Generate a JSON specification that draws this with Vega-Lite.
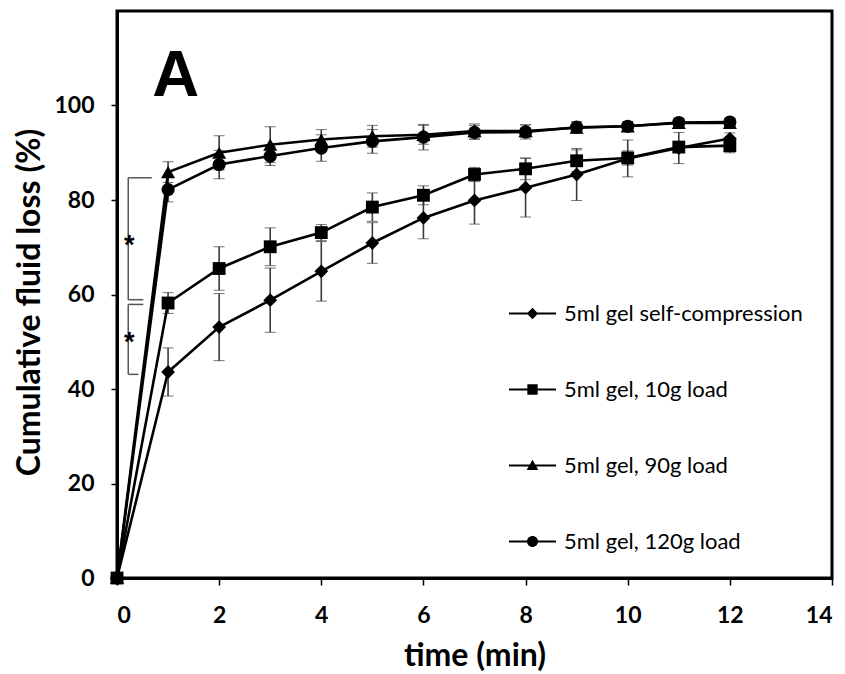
{
  "$schema": "https://vega.github.io/schema/vega-lite/v6.json",
  "width": 715,
  "height": 567,
  "autosize": "none",
  "padding": {"left": 117, "top": 11, "right": 13, "bottom": 96},
  "background": "white",
  "config": {
    "view": {"stroke": "black", "strokeWidth": 3},
    "font": "Lato",
    "axis": {
      "domainColor": "black", "domainWidth": 3,
      "tickColor": "black", "tickWidth": 1.5, "tickSize": 6,
      "labelFont": "Lato", "labelFontWeight": "bold", "labelFontSize": 23, "labelColor": "black",
      "titleFont": "Lato", "titleFontWeight": "bold", "titleFontSize": 32, "titleColor": "black",
      "grid": false
    }
  },
  "datasets": {
    "main": [
      {"t": 0, "series": "5ml gel self-compression", "loss": 0, "sd": 0},
      {"t": 1, "series": "5ml gel self-compression", "loss": 43.6, "sd": 5.1},
      {"t": 2, "series": "5ml gel self-compression", "loss": 53.1, "sd": 7.1},
      {"t": 3, "series": "5ml gel self-compression", "loss": 58.8, "sd": 6.8},
      {"t": 4, "series": "5ml gel self-compression", "loss": 64.9, "sd": 6.3},
      {"t": 5, "series": "5ml gel self-compression", "loss": 70.9, "sd": 4.3},
      {"t": 6, "series": "5ml gel self-compression", "loss": 76.2, "sd": 4.4},
      {"t": 7, "series": "5ml gel self-compression", "loss": 79.9, "sd": 5.0},
      {"t": 8, "series": "5ml gel self-compression", "loss": 82.6, "sd": 6.2},
      {"t": 9, "series": "5ml gel self-compression", "loss": 85.4, "sd": 5.5},
      {"t": 10, "series": "5ml gel self-compression", "loss": 88.8, "sd": 3.9},
      {"t": 11, "series": "5ml gel self-compression", "loss": 91.0, "sd": 3.3},
      {"t": 12, "series": "5ml gel self-compression", "loss": 93.0, "sd": 1.2},
      {"t": 0, "series": "5ml gel, 10g load", "loss": 0, "sd": 0},
      {"t": 1, "series": "5ml gel, 10g load", "loss": 58.2, "sd": 2.2},
      {"t": 2, "series": "5ml gel, 10g load", "loss": 65.5, "sd": 4.6},
      {"t": 3, "series": "5ml gel, 10g load", "loss": 70.1, "sd": 4.0},
      {"t": 4, "series": "5ml gel, 10g load", "loss": 73.1, "sd": 1.7},
      {"t": 5, "series": "5ml gel, 10g load", "loss": 78.5, "sd": 3.0},
      {"t": 6, "series": "5ml gel, 10g load", "loss": 81.0, "sd": 2.0},
      {"t": 7, "series": "5ml gel, 10g load", "loss": 85.4, "sd": 1.5},
      {"t": 8, "series": "5ml gel, 10g load", "loss": 86.6, "sd": 2.3},
      {"t": 9, "series": "5ml gel, 10g load", "loss": 88.3, "sd": 2.3},
      {"t": 10, "series": "5ml gel, 10g load", "loss": 88.9, "sd": 1.5},
      {"t": 11, "series": "5ml gel, 10g load", "loss": 91.2, "sd": 1.0},
      {"t": 12, "series": "5ml gel, 10g load", "loss": 91.5, "sd": 1.5},
      {"t": 0, "series": "5ml gel, 90g load", "loss": 0, "sd": 0},
      {"t": 1, "series": "5ml gel, 90g load", "loss": 85.9, "sd": 2.2},
      {"t": 2, "series": "5ml gel, 90g load", "loss": 90.0, "sd": 3.6},
      {"t": 3, "series": "5ml gel, 90g load", "loss": 91.7, "sd": 3.8},
      {"t": 4, "series": "5ml gel, 90g load", "loss": 92.8, "sd": 2.1},
      {"t": 5, "series": "5ml gel, 90g load", "loss": 93.5, "sd": 2.3},
      {"t": 6, "series": "5ml gel, 90g load", "loss": 93.8, "sd": 2.0},
      {"t": 7, "series": "5ml gel, 90g load", "loss": 94.6, "sd": 1.5},
      {"t": 8, "series": "5ml gel, 90g load", "loss": 94.6, "sd": 1.3},
      {"t": 9, "series": "5ml gel, 90g load", "loss": 95.3, "sd": 1.0},
      {"t": 10, "series": "5ml gel, 90g load", "loss": 95.6, "sd": 1.0},
      {"t": 11, "series": "5ml gel, 90g load", "loss": 96.3, "sd": 1.0},
      {"t": 12, "series": "5ml gel, 90g load", "loss": 96.3, "sd": 0.8},
      {"t": 0, "series": "5ml gel, 120g load", "loss": 0, "sd": 0},
      {"t": 1, "series": "5ml gel, 120g load", "loss": 82.2, "sd": 2.6},
      {"t": 2, "series": "5ml gel, 120g load", "loss": 87.5, "sd": 3.0},
      {"t": 3, "series": "5ml gel, 120g load", "loss": 89.3, "sd": 2.0},
      {"t": 4, "series": "5ml gel, 120g load", "loss": 91.0, "sd": 2.8},
      {"t": 5, "series": "5ml gel, 120g load", "loss": 92.4, "sd": 2.5},
      {"t": 6, "series": "5ml gel, 120g load", "loss": 93.3, "sd": 2.7},
      {"t": 7, "series": "5ml gel, 120g load", "loss": 94.3, "sd": 1.5},
      {"t": 8, "series": "5ml gel, 120g load", "loss": 94.4, "sd": 1.5},
      {"t": 9, "series": "5ml gel, 120g load", "loss": 95.4, "sd": 1.2},
      {"t": 10, "series": "5ml gel, 120g load", "loss": 95.6, "sd": 1.0},
      {"t": 11, "series": "5ml gel, 120g load", "loss": 96.4, "sd": 0.8},
      {"t": 12, "series": "5ml gel, 120g load", "loss": 96.5, "sd": 0.8}
    ],
    "brackets": [
      {"t": 0.22, "loss": 84.7, "t2": 0.68, "loss2": 84.7},
      {"t": 0.22, "loss": 84.7, "t2": 0.22, "loss2": 58.9},
      {"t": 0.22, "loss": 58.9, "t2": 0.515, "loss2": 58.9},
      {"t": 0.22, "loss": 57.9, "t2": 0.515, "loss2": 57.9},
      {"t": 0.22, "loss": 57.9, "t2": 0.22, "loss2": 43.1},
      {"t": 0.22, "loss": 43.1, "t2": 0.42, "loss2": 43.1}
    ],
    "stars": [
      {"t": 0.24, "loss": 71.6, "label": "*"},
      {"t": 0.24, "loss": 51.1, "label": "*"}
    ]
  },
  "layer": [
    {
      "data": {"name": "brackets"},
      "mark": {"type": "rule", "color": "#555555", "strokeWidth": 1.5},
      "encoding": {
        "x": {"field": "t", "type": "quantitative", "title": "time (min)"},
        "x2": {"field": "t2"},
        "y": {"field": "loss", "type": "quantitative", "title": "Cumulative fluid loss (%)"},
        "y2": {"field": "loss2"}
      }
    },
    {
      "data": {"name": "stars"},
      "mark": {"type": "text", "font": "Liberation Sans", "fontWeight": "bold", "fontSize": 27, "color": "black", "baseline": "middle", "align": "center", "dy": 6},
      "encoding": {
        "x": {"field": "t", "type": "quantitative", "title": "time (min)"},
        "y": {"field": "loss", "type": "quantitative", "title": "Cumulative fluid loss (%)"},
        "text": {"field": "label"}
      }
    },
    {
      "data": {"values": [{"label": "A"}]},
      "mark": {"type": "text", "font": "Liberation Sans", "fontWeight": "bold", "fontSize": 65, "color": "black", "baseline": "alphabetic", "align": "center"},
      "encoding": {
        "x": {"datum": 1.15, "type": "quantitative"},
        "y": {"datum": 102.1, "type": "quantitative"},
        "text": {"field": "label"}
      }
    },
    {
      "data": {"name": "main"},
      "mark": {"type": "errorbar", "ticks": {"size": 11, "color": "#3a3a3a", "strokeWidth": 1.6}, "rule": {"color": "#3a3a3a", "strokeWidth": 1.6}},
      "encoding": {
        "x": {"field": "t", "type": "quantitative", "title": "time (min)"},
        "y": {"field": "loss", "type": "quantitative", "title": "Cumulative fluid loss (%)"},
        "yError": {"field": "sd"}
      }
    },
    {
      "data": {"name": "main"},
      "mark": {"type": "line", "color": "black", "strokeWidth": 2.6},
      "encoding": {
        "x": {"field": "t", "type": "quantitative", "title": "time (min)",
              "scale": {"domain": [0, 14], "nice": false, "zero": false},
              "axis": {"values": [0, 2, 4, 6, 8, 10, 12, 14], "tickSize": 7, "labelPadding": 19, "titlePadding": 13}},
        "y": {"field": "loss", "type": "quantitative", "title": "Cumulative fluid loss (%)",
              "scale": {"domain": [0, 120], "nice": false},
              "axis": {"values": [0, 20, 40, 60, 80, 100], "labelPadding": 17, "titlePadding": 7, "titleY": 291}},
        "detail": {"field": "series"}
      }
    },
    {
      "data": {"name": "main"},
      "transform": [{"filter": "datum.series === '5ml gel self-compression'"}],
      "mark": {"type": "point", "shape": "diamond", "filled": true, "color": "black", "opacity": 1, "size": 190},
      "encoding": {
        "x": {"field": "t", "type": "quantitative", "title": "time (min)"},
        "y": {"field": "loss", "type": "quantitative", "title": "Cumulative fluid loss (%)"}
      }
    },
    {
      "data": {"name": "main"},
      "transform": [{"filter": "datum.series === '5ml gel, 10g load'"}],
      "mark": {"type": "point", "shape": "square", "filled": true, "color": "black", "opacity": 1, "size": 165},
      "encoding": {
        "x": {"field": "t", "type": "quantitative", "title": "time (min)"},
        "y": {"field": "loss", "type": "quantitative", "title": "Cumulative fluid loss (%)"}
      }
    },
    {
      "data": {"name": "main"},
      "transform": [{"filter": "datum.series === '5ml gel, 90g load'"}],
      "mark": {"type": "point", "shape": "triangle-up", "filled": true, "color": "black", "opacity": 1, "size": 200},
      "encoding": {
        "x": {"field": "t", "type": "quantitative", "title": "time (min)"},
        "y": {"field": "loss", "type": "quantitative", "title": "Cumulative fluid loss (%)"}
      }
    },
    {
      "data": {"name": "main"},
      "transform": [{"filter": "datum.series === '5ml gel, 120g load'"}],
      "mark": {"type": "point", "shape": "circle", "filled": true, "color": "black", "opacity": 1, "size": 175},
      "encoding": {
        "x": {"field": "t", "type": "quantitative", "title": "time (min)"},
        "y": {"field": "loss", "type": "quantitative", "title": "Cumulative fluid loss (%)"}
      }
    },
    {
      "data": {"name": "main"},
      "transform": [{"filter": "datum.t < 0"}],
      "mark": {"type": "point", "filled": true, "color": "black", "opacity": 1},
      "encoding": {
        "x": {"field": "t", "type": "quantitative", "title": "time (min)"},
        "y": {"field": "loss", "type": "quantitative", "title": "Cumulative fluid loss (%)"},
        "shape": {
          "field": "series", "type": "nominal",
          "scale": {
            "domain": ["5ml gel self-compression", "5ml gel, 10g load", "5ml gel, 90g load", "5ml gel, 120g load"],
            "range": [
              "M-1,-0.045H1V0.045H-1ZM0,-0.24L0.24,0L0,0.24L-0.24,0Z",
              "M-1,-0.045H1V0.045H-1ZM-0.22,-0.22H0.22V0.22H-0.22Z",
              "M-1,-0.045H1V0.045H-1ZM0,-0.25L0.25,0.19H-0.25Z",
              "M-1,-0.045H1V0.045H-1ZM0.235,0A0.235,0.235,0,1,1,-0.235,0A0.235,0.235,0,1,1,0.235,0Z"
            ]
          },
          "legend": {
            "title": null,
            "orient": "none",
            "legendX": 391,
            "legendY": 278,
            "padding": 0,
            "symbolSize": 2209,
            "symbolFillColor": "black",
            "symbolOpacity": 1,
            "rowPadding": 40,
            "labelOffset": 7,
            "labelFont": "Lato",
            "labelFontSize": 22,
            "labelColor": "black",
            "labelLimit": 400
          }
        }
      }
    }
  ]
}
